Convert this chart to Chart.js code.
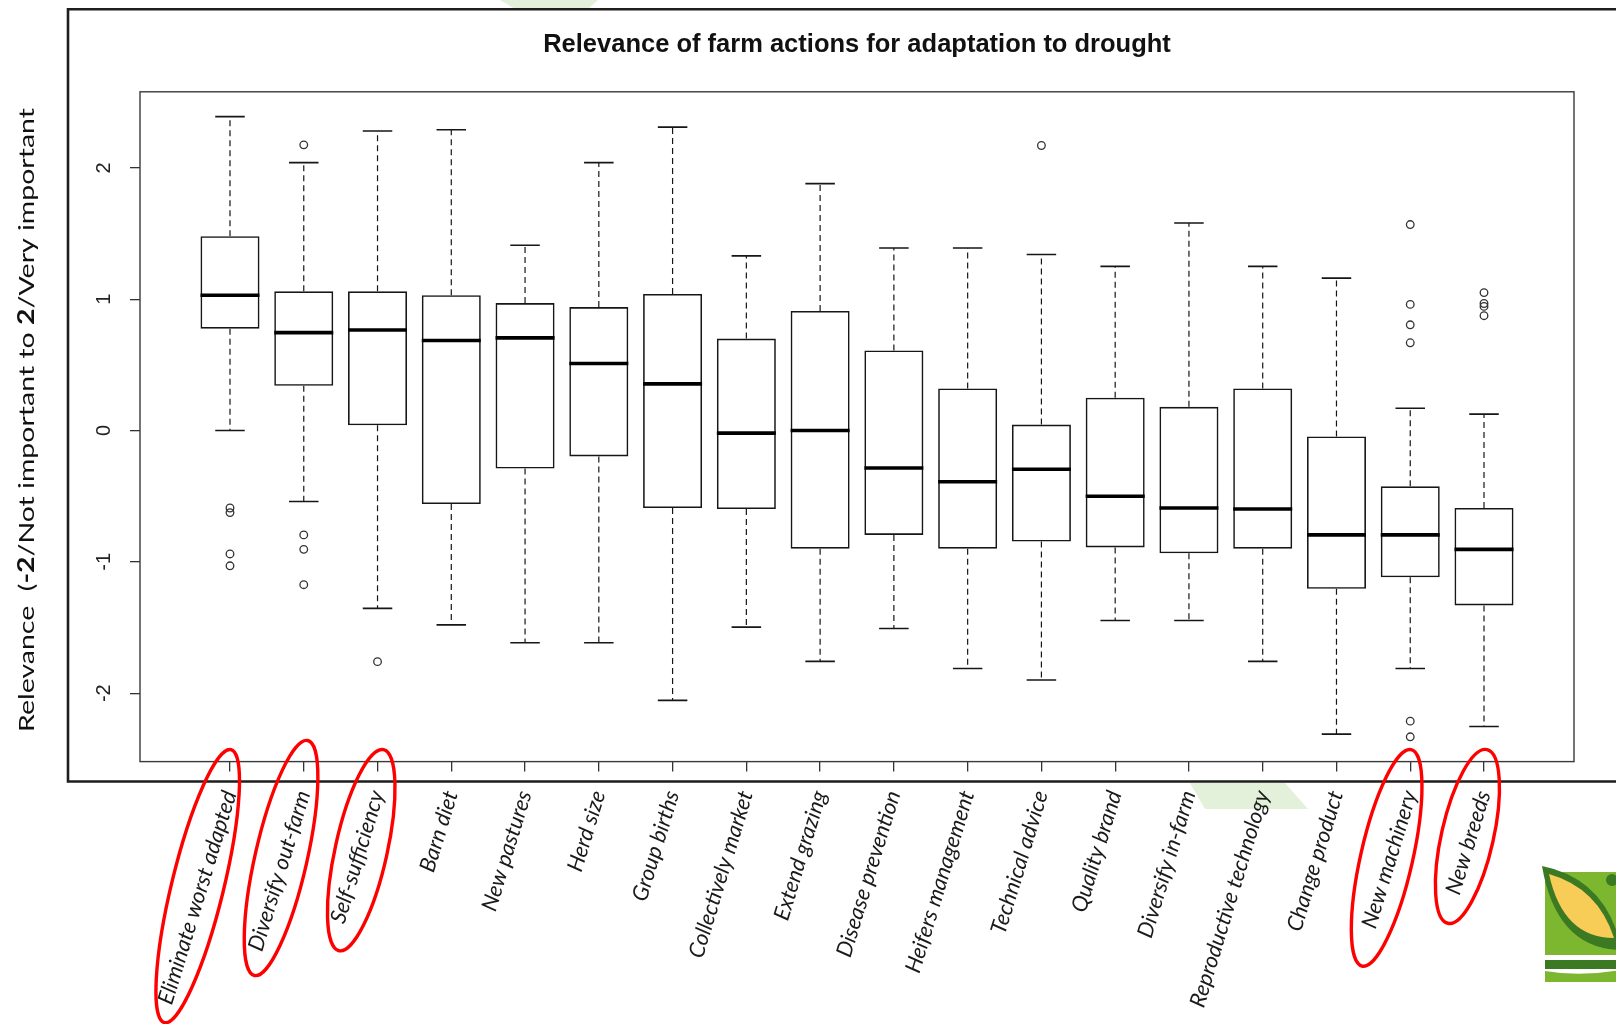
<!DOCTYPE html>
<html>
<head>
<meta charset="utf-8">
<script src="https://cdn.jsdelivr.net/npm/chart.js@4.4.1/dist/chart.umd.min.js"></script>
<style>
  html, body { margin: 0; padding: 0; background: #ffffff; }
  canvas { display: block; }
</style>
</head>
<body>
<canvas id="chart" width="1616" height="1024"></canvas>
<script>
// Farm actions, ordered by median relevance
const categories = [
  'Eliminate worst adapted', 'Diversify out-farm', 'Self-sufficiency', 'Barn diet',
  'New pastures', 'Herd size', 'Group births', 'Collectively market', 'Extend grazing',
  'Disease prevention', 'Heifers management', 'Technical advice', 'Quality brand',
  'Diversify in-farm', 'Reproductive technology', 'Change product', 'New machinery', 'New breeds'
];

// Five-number summaries per action
const upperWhisker  = [2.39, 2.04, 2.28, 2.29, 1.41, 2.04, 2.31, 1.33, 1.88, 1.39, 1.39, 1.34, 1.25, 1.58, 1.25, 1.16, 0.17, 0.125];
const upperQuartile = [1.48, 1.06, 1.06, 1.03, 0.97, 0.94, 1.04, 0.70, 0.91, 0.61, 0.32, 0.045, 0.25, 0.18, 0.32, -0.045, -0.425, -0.59];
const medians       = [1.03, 0.745, 0.765, 0.685, 0.705, 0.51, 0.355, -0.02, 0.0, -0.285, -0.39, -0.295, -0.50, -0.59, -0.598, -0.795, -0.795, -0.905];
const lowerQuartile = [0.775, 0.34, 0.04, -0.56, -0.29, -0.197, -0.59, -0.598, -0.90, -0.795, -0.90, -0.845, -0.89, -0.935, -0.90, -1.205, -1.118, -1.332];
const lowerWhisker  = [0.0, -0.54, -1.354, -1.48, -1.616, -1.616, -2.055, -1.497, -1.758, -1.507, -1.812, -1.90, -1.446, -1.446, -1.758, -2.312, -1.812, -2.254];

// Points beyond the whiskers, per action
const outliers = [
  [-0.59, -0.625, -0.94, -1.03], [2.175, -0.795, -0.905, -1.174], [-1.76], [], [], [], [], [], [], [], [],
  [2.17], [], [], [], [], [1.568, 0.96, 0.805, 0.668, -2.213, -2.332], [1.05, 0.967, 0.945, 0.874]
];

const yTickValues = [-2, -1, 0, 1, 2];
const chartTitle = 'Relevance of farm actions for adaptation to drought';
const yTitleParts = [
  { text: 'Relevance  (', bold: false },
  { text: '-2', bold: true },
  { text: '/Not important to ', bold: false },
  { text: '2', bold: true },
  { text: '/Very important', bold: false }
];
// Actions circled in red
const highlighted = ['Eliminate worst adapted', 'Diversify out-farm', 'Self-sufficiency', 'New machinery', 'New breeds'];

// Axis limits as R extends them (4% on each side)
const allValues = [].concat(upperWhisker, lowerWhisker, ...outliers);
const yLo = Math.min(...allValues), yHi = Math.max(...allValues);
const yPad = 0.04 * (yHi - yLo);
const xPad = 0.04 * categories.length;

const INK = '#161616';

const boxMarks = {
  id: 'boxMarks',
  beforeDatasetsDraw(chart) {
    const { ctx, scales: { x, y } } = chart;
    const bars = chart.getDatasetMeta(0).data;
    ctx.save();
    ctx.strokeStyle = INK;
    categories.forEach((c, i) => {
      const px = x.getPixelForValue(i + 1);
      const half = bars[i].width / 2;
      // dashed whiskers
      ctx.setLineDash([6, 4]);
      ctx.lineWidth = 1.2;
      ctx.beginPath();
      ctx.moveTo(px, y.getPixelForValue(upperQuartile[i]));
      ctx.lineTo(px, y.getPixelForValue(upperWhisker[i]));
      ctx.moveTo(px, y.getPixelForValue(lowerQuartile[i]));
      ctx.lineTo(px, y.getPixelForValue(lowerWhisker[i]));
      ctx.stroke();
      // staples
      ctx.setLineDash([]);
      ctx.lineWidth = 1.6;
      ctx.beginPath();
      [upperWhisker[i], lowerWhisker[i]].forEach(v => {
        const py = y.getPixelForValue(v);
        ctx.moveTo(px - half / 2, py);
        ctx.lineTo(px + half / 2, py);
      });
      ctx.stroke();
    });
    ctx.restore();
  },
  afterDatasetsDraw(chart) {
    const { ctx, scales: { x, y } } = chart;
    const bars = chart.getDatasetMeta(0).data;
    ctx.save();
    ctx.strokeStyle = '#000';
    ctx.lineWidth = 3.6;
    categories.forEach((c, i) => {
      const px = x.getPixelForValue(i + 1);
      const half = bars[i].width / 2;
      const py = y.getPixelForValue(medians[i]);
      ctx.beginPath();
      ctx.moveTo(px - half, py);
      ctx.lineTo(px + half, py);
      ctx.stroke();
    });
    ctx.restore();
  }
};

const decorations = {
  id: 'decorations',
  beforeDraw(chart) {
    const { ctx, width, height } = chart;
    ctx.save();
    ctx.fillStyle = '#ffffff';
    ctx.fillRect(0, 0, width, height);
    // faint slide background shapes
    ctx.fillStyle = '#e4f1da';
    ctx.beginPath();
    ctx.moveTo(500, 0); ctx.lineTo(598, 0); ctx.lineTo(588, 9); ctx.lineTo(515, 9);
    ctx.closePath(); ctx.fill();
    ctx.beginPath();
    ctx.moveTo(1190, 783); ctx.lineTo(1285, 783); ctx.lineTo(1308, 809); ctx.lineTo(1205, 809);
    ctx.closePath(); ctx.fill();
    ctx.restore();
  },
  afterDraw(chart) {
    const { ctx, chartArea: area, scales: { x, y } } = chart;
    ctx.save();
    // plot box
    ctx.strokeStyle = '#3a3a3a';
    ctx.lineWidth = 1.4;
    ctx.strokeRect(area.left, area.top, area.right - area.left, area.bottom - area.top);

    // figure frame
    ctx.strokeStyle = '#1e1e1e';
    ctx.lineWidth = 2.6;
    ctx.beginPath();
    ctx.moveTo(1620, 9.3); ctx.lineTo(68, 9.3); ctx.lineTo(68, 781.5); ctx.lineTo(1620, 781.5);
    ctx.stroke();

    // y tick labels, parallel to the axis
    ctx.fillStyle = '#222';
    ctx.font = '20px "Liberation Sans", Arial, sans-serif';
    ctx.textAlign = 'center';
    ctx.textBaseline = 'middle';
    y.ticks.forEach(t => {
      ctx.save();
      ctx.translate(area.left - 36, y.getPixelForValue(t.value));
      ctx.rotate(-Math.PI / 2);
      ctx.fillText(String(t.value), 0, 0);
      ctx.restore();
    });

    // y axis title with bold scale ends
    const fontFor = b => (b ? 'bold ' : '') + '22px Lato, "Open Sans", sans-serif';
    let total = 0;
    yTitleParts.forEach(p => { ctx.font = fontFor(p.bold); p.w = ctx.measureText(p.text).width; total += p.w; });
    const span = 624;
    ctx.save();
    ctx.translate(27, 420);
    ctx.rotate(-Math.PI / 2);
    ctx.scale(span / total, 1);
    ctx.textAlign = 'left';
    ctx.textBaseline = 'middle';
    ctx.fillStyle = '#111';
    let cx = -total / 2;
    yTitleParts.forEach(p => { ctx.font = fontFor(p.bold); ctx.fillText(p.text, cx, 0); cx += p.w; });
    ctx.restore();

    // red ellipses round selected labels
    const ellipseShape = {
      'Eliminate worst adapted': { dx: 1, top: 749.6, len: 281, angle: 76.3 },
      'Diversify out-farm': { dx: 4, top: 740.5, len: 241, angle: 77.2 },
      'Self-sufficiency': { dx: 6, top: 749.6, len: 206, angle: 77.5 },
      'New machinery': { dx: 1, top: 749.6, len: 222, angle: 77.2 },
      'New breeds': { dx: 3, top: 749.6, len: 178, angle: 77.3 }
    };
    ctx.strokeStyle = '#ff0000';
    ctx.lineWidth = 3.4;
    highlighted.forEach(name => {
      const s = ellipseShape[name];
      const i = categories.indexOf(name);
      const th = s.angle * Math.PI / 180;
      const tx = x.getPixelForValue(i + 1) + s.dx;
      const cxE = tx - (s.len / 2) * Math.cos(th);
      const cyE = s.top + (s.len / 2) * Math.sin(th);
      ctx.beginPath();
      ctx.ellipse(cxE, cyE, s.len / 2, 26, Math.PI - th, 0, Math.PI * 2);
      ctx.stroke();
    });

    // corner logo
    ctx.fillStyle = '#7db72f';
    ctx.fillRect(1545, 872, 80, 83);
    ctx.fillStyle = '#3b7a22';
    ctx.beginPath();
    ctx.moveTo(1542, 866);
    ctx.quadraticCurveTo(1603, 878, 1620, 942);
    ctx.lineTo(1620, 950);
    ctx.quadraticCurveTo(1556, 948, 1542, 866);
    ctx.fill();
    ctx.fillStyle = '#f7cd57';
    ctx.beginPath();
    ctx.moveTo(1549, 874);
    ctx.quadraticCurveTo(1598, 888, 1614, 938);
    ctx.quadraticCurveTo(1563, 938, 1549, 874);
    ctx.fill();
    ctx.fillStyle = '#3b7a22';
    ctx.beginPath();
    ctx.arc(1612, 880, 6, 0, Math.PI * 2);
    ctx.fill();
    ctx.fillRect(1545, 960, 80, 9);
    ctx.fillStyle = '#7db72f';
    ctx.beginPath();
    ctx.moveTo(1545, 971);
    ctx.quadraticCurveTo(1580, 977, 1620, 970);
    ctx.lineTo(1620, 982);
    ctx.lineTo(1545, 982);
    ctx.closePath();
    ctx.fill();
    ctx.restore();
  }
};

new Chart(document.getElementById('chart'), {
  type: 'bar',
  data: {
    datasets: [
      {
        type: 'bar',
        label: 'Interquartile range',
        data: categories.map((c, i) => ({ x: i + 1, y: [lowerQuartile[i], upperQuartile[i]] })),
        backgroundColor: 'rgba(255,255,255,0)',
        borderColor: INK,
        borderWidth: 1.6,
        borderSkipped: false,
        categoryPercentage: 1,
        barPercentage: 0.8,
        grouped: false
      },
      {
        type: 'scatter',
        label: 'Outliers',
        data: outliers.flatMap((vals, i) => vals.map(v => ({ x: i + 1, y: v }))),
        pointStyle: 'circle',
        pointRadius: 3.8,
        borderColor: '#333',
        borderWidth: 1.3,
        backgroundColor: 'rgba(255,255,255,0)'
      }
    ]
  },
  options: {
    responsive: false,
    devicePixelRatio: 1,
    animation: false,
    layout: { padding: { left: 0, right: 42, top: 0, bottom: 0 } },
    plugins: {
      legend: { display: false },
      tooltip: { enabled: false },
      title: {
        display: true,
        text: chartTitle,
        fullSize: false,
        color: '#111',
        font: { family: '"Liberation Sans", Arial, sans-serif', weight: 'bold', size: 25.5 },
        padding: { top: 30, bottom: 31.2 }
      }
    },
    scales: {
      x: {
        type: 'linear',
        offset: false,
        min: 0.5 - xPad,
        max: categories.length + 0.5 + xPad,
        afterBuildTicks: s => { s.ticks = categories.map((c, i) => ({ value: i + 1 })); },
        afterFit: s => { s.height = 262.4; },
        ticks: {
          autoSkip: false,
          minRotation: 73,
          maxRotation: 73,
          padding: 16,
          color: '#1a1a1a',
          font: { family: 'Lato, "Open Sans", sans-serif', style: 'italic', size: 22 },
          callback: v => categories[v - 1]
        },
        grid: { offset: false, drawOnChartArea: false, drawTicks: true, tickLength: 10, color: '#333', lineWidth: 1.3 },
        border: { display: false }
      },
      y: {
        type: 'linear',
        min: yLo - yPad,
        max: yHi + yPad,
        afterBuildTicks: s => { s.ticks = yTickValues.map(v => ({ value: v })); },
        afterFit: s => { s.width = 140; },
        ticks: { display: false },
        grid: { drawOnChartArea: false, drawTicks: true, tickLength: 10, color: '#333', lineWidth: 1.3 },
        border: { display: false }
      }
    }
  },
  plugins: [decorations, boxMarks]
});
</script>
</body>
</html>
